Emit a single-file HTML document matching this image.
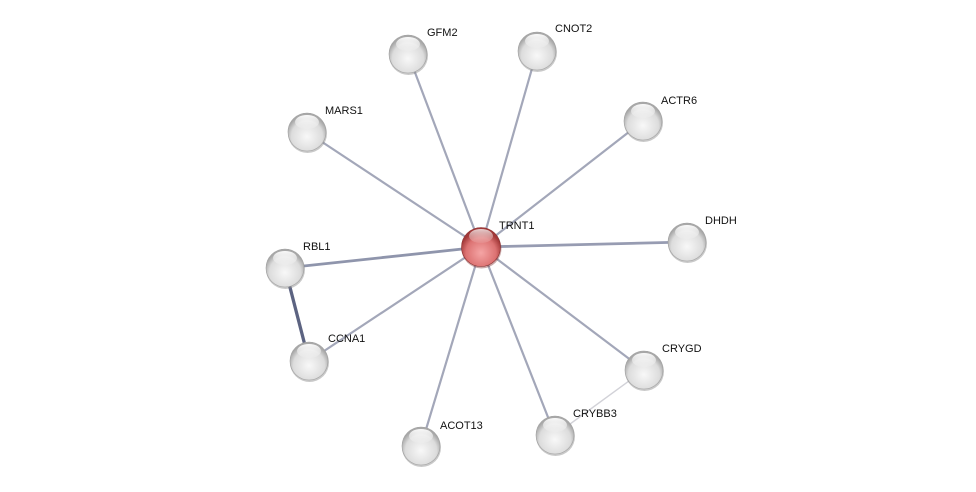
<!DOCTYPE html>
<html><head><meta charset="utf-8"><style>
html,body{margin:0;padding:0;background:#fff;}
svg{display:block;}
text{font-family:"Liberation Sans",sans-serif;font-size:11px;fill:#111;}
</style></head><body>
<svg width="976" height="492" viewBox="0 0 976 492">
<defs>
<radialGradient id="g" cx="50%" cy="62%" r="55%">
<stop offset="0" stop-color="#f8f8f8"/><stop offset="0.75" stop-color="#dcdcdc"/><stop offset="1" stop-color="#a8a8a8"/>
</radialGradient>
<radialGradient id="r" cx="50%" cy="65%" r="55%">
<stop offset="0" stop-color="#f5a5a5"/><stop offset="0.7" stop-color="#dc7272"/><stop offset="1" stop-color="#a23838"/>
</radialGradient>
<linearGradient id="h" x1="0" y1="0" x2="0" y2="1">
<stop offset="0" stop-color="#fff" stop-opacity="0.95"/><stop offset="1" stop-color="#fff" stop-opacity="0.1"/>
</linearGradient>
<g id="n"><circle cx="0.5" cy="1.5" r="19.5" fill="#888" opacity="0.45"/><circle r="19" fill="url(#g)" stroke="#a0a0a0" stroke-width="0.6"/><ellipse cx="0" cy="-10" rx="12" ry="7" fill="url(#h)"/></g>
</defs>
<g stroke-linecap="round">
<g stroke="#a3a7b9" stroke-width="2.2">
<line x1="481" y1="247" x2="408" y2="54"/>
<line x1="481" y1="247" x2="537" y2="51"/>
<line x1="481" y1="247" x2="643" y2="121"/>
<line x1="481" y1="247" x2="307" y2="132"/>
<line x1="481" y1="247" x2="644" y2="370"/>
<line x1="481" y1="247" x2="555" y2="435"/>
<line x1="481" y1="247" x2="421" y2="446"/>
<line x1="481" y1="247" x2="309" y2="361"/>
</g>
<line x1="481" y1="247" x2="687" y2="242" stroke="#979cb2" stroke-width="2.8"/>
<line x1="481" y1="247" x2="285" y2="268" stroke="#8f95ac" stroke-width="2.8"/>
<line x1="285" y1="268" x2="309" y2="361" stroke="#5c6381" stroke-width="3.3"/>
<line x1="644" y1="370" x2="555" y2="435" stroke="#d2d2d8" stroke-width="1.4"/>
</g>
<use href="#n" x="408" y="54"/>
<use href="#n" x="537" y="51"/>
<use href="#n" x="643" y="121"/>
<use href="#n" x="307" y="132"/>
<use href="#n" x="687" y="242"/>
<use href="#n" x="285" y="268"/>
<use href="#n" x="309" y="361"/>
<use href="#n" x="644" y="370"/>
<use href="#n" x="555" y="435"/>
<use href="#n" x="421" y="446"/>
<circle cx="481.5" cy="248.5" r="20" fill="#7a2a2a" opacity="0.4"/>
<circle cx="481" cy="247" r="19.5" fill="url(#r)" stroke="#8a2e2e" stroke-width="0.6"/>
<ellipse cx="481" cy="236" rx="12" ry="7" fill="url(#h)" opacity="0.8"/>
<text x="427" y="36">GFM2</text>
<text x="555" y="32">CNOT2</text>
<text x="661" y="104">ACTR6</text>
<text x="325" y="114">MARS1</text>
<text x="499" y="229">TRNT1</text>
<text x="705" y="224">DHDH</text>
<text x="303" y="250">RBL1</text>
<text x="328" y="342">CCNA1</text>
<text x="662" y="352">CRYGD</text>
<text x="573" y="417">CRYBB3</text>
<text x="440" y="429">ACOT13</text>
</svg>
</body></html>
